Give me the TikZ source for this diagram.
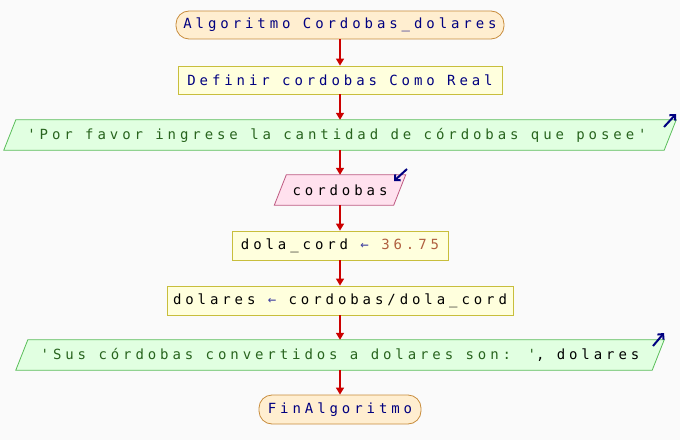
\documentclass[tikz,border=0pt]{standalone}
\usepackage{fontspec}
\usetikzlibrary{arrows.meta,backgrounds}
\newfontfamily\psfont[LetterSpace=28]{DejaVu Sans Mono}
\definecolor{bgc}{RGB}{250,250,250}
\definecolor{termfill}{RGB}{255,238,208}
\definecolor{termdraw}{RGB}{200,140,60}
\definecolor{procfill}{RGB}{255,255,221}
\definecolor{procdraw}{RGB}{200,190,60}
\definecolor{outfill}{RGB}{225,255,225}
\definecolor{outdraw}{RGB}{90,190,90}
\definecolor{infill}{RGB}{255,225,238}
\definecolor{indraw}{RGB}{190,90,130}
\definecolor{kwc}{RGB}{0,0,128}
\definecolor{strc}{RGB}{40,100,30}
\definecolor{numc}{RGB}{176,96,64}
\definecolor{opc}{RGB}{64,64,160}
\definecolor{flowc}{RGB}{204,0,0}
\definecolor{ioarrow}{RGB}{0,0,128}
\begin{document}
\begin{tikzpicture}[x=1pt,y=1pt,
  every node/.style={font=\psfont\fontsize{14}{16}\selectfont, inner sep=0pt},
  term/.style={draw=termdraw, fill=termfill, rounded corners=13pt, line width=0.8pt, text=kwc},
  proc/.style={draw=procdraw, fill=procfill, line width=0.8pt},
  iobox/.style={rectangle},
  flow/.style={draw=flowc, line width=1.4pt, -{Triangle[width=8pt,length=7pt]}},
  ioarr/.style={draw=ioarrow, line width=2pt, -{Straight Barb[length=4pt,width=8pt]}}
]
\useasboundingbox (0,0) rectangle (680,440);

\node[term, minimum width=328pt, minimum height=28pt] (start) at (340,415) {Algoritmo Cordobas\_dolares};
\node[proc, minimum width=324pt, minimum height=28pt, text=kwc] (def) at (340,360) {Definir cordobas Como Real};
\node[iobox, minimum width=660pt, minimum height=30pt, text=strc] (out1) at (340,305) {\hspace*{-6pt}'Por favor ingrese la cantidad de córdobas que posee'};
\node[iobox, minimum width=119pt, minimum height=30pt] (in1) at (340,250) {cordobas};
\node[proc, minimum width=216pt, minimum height=29pt] (as1) at (340,194.5) {dola\_cord {\color{opc}←} {\color{numc}36.75}};
\node[proc, minimum width=346pt, minimum height=29pt] (as2) at (340,139.5) {dolares {\color{opc}←} cordobas/dola\_cord};
\node[iobox, minimum width=636pt, minimum height=30pt] (out2) at (340,85) {{\color{strc}'Sus córdobas convertidos a dolares son: '}, dolares};
\node[term, minimum width=162pt, minimum height=29pt] (fin) at (340,30.5) {FinAlgoritmo};

\begin{scope}[on background layer]
\fill[bgc] (0,0) rectangle (680,440);
\draw[draw=outdraw, fill=outfill, line width=0.8pt]
  ([xshift=6pt]out1.north west) -- ([xshift=6pt]out1.north east) -- ([xshift=-6pt]out1.south east) -- ([xshift=-6pt]out1.south west) -- cycle;
\draw[draw=indraw, fill=infill, line width=0.8pt]
  ([xshift=6pt]in1.north west) -- ([xshift=6pt]in1.north east) -- ([xshift=-6pt]in1.south east) -- ([xshift=-6pt]in1.south west) -- cycle;
\draw[draw=outdraw, fill=outfill, line width=0.8pt]
  ([xshift=6pt]out2.north west) -- ([xshift=6pt]out2.north east) -- ([xshift=-6pt]out2.south east) -- ([xshift=-6pt]out2.south west) -- cycle;
\end{scope}

\draw[flow] (start.south) -- (def.north);
\draw[flow] (def.south) -- (out1.north);
\draw[flow] (out1.south) -- (in1.north);
\draw[flow] (in1.south) -- (as1.north);
\draw[flow] (as1.south) -- (as2.north);
\draw[flow] (as2.south) -- (out2.north);
\draw[flow] (out2.south) -- (fin.north);

\coordinate (o1a) at (664,313);
\coordinate (o1b) at (676,326);
\coordinate (i1a) at (407,271);
\coordinate (i1b) at (394,259);
\coordinate (o2a) at (653,94);
\coordinate (o2b) at (664,107);
\draw[ioarr] (o1a) -- (o1b);
\draw[ioarr] (i1a) -- (i1b);
\draw[ioarr] (o2a) -- (o2b);
\end{tikzpicture}
\end{document}
